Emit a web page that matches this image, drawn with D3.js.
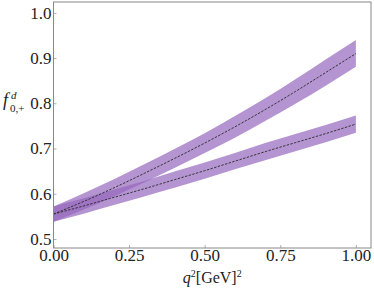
<!DOCTYPE html>
<html>
<head>
<meta charset="utf-8">
<script src="https://cdn.jsdelivr.net/npm/d3@7/dist/d3.min.js"></script>
<style>
  body { margin: 0; background: #fff; }
</style>
</head>
<body>
<script>
// values
const q2 = [0, 0.1, 0.2, 0.3, 0.4, 0.5, 0.6, 0.7, 0.8, 0.9, 1.0];
const fUpper = [0.555, 0.583, 0.613, 0.645, 0.678, 0.712, 0.748, 0.786, 0.826, 0.868, 0.910];
const fUpperLo = [0.538, 0.565, 0.594, 0.625, 0.657, 0.690, 0.724, 0.761, 0.799, 0.839, 0.881];
const fUpperHi = [0.572, 0.601, 0.632, 0.665, 0.699, 0.734, 0.772, 0.811, 0.853, 0.897, 0.940];
const fLower = [0.555, 0.573, 0.592, 0.611, 0.631, 0.651, 0.672, 0.693, 0.713, 0.733, 0.754];
const fLowerLo = [0.538, 0.556, 0.575, 0.594, 0.613, 0.633, 0.654, 0.674, 0.694, 0.714, 0.735];
const fLowerHi = [0.572, 0.590, 0.609, 0.628, 0.649, 0.669, 0.690, 0.712, 0.732, 0.752, 0.773];
const xTicks = [0, 0.25, 0.5, 0.75, 1.0];
const yTicks = [0.5, 0.6, 0.7, 0.8, 0.9, 1.0];

const FONT = "'Liberation Serif', serif";
const W = 374, H = 288;
const margin = { top: 2, right: 3, bottom: 40, left: 53.5 };
const width = W - margin.left - margin.right, height = H - margin.top - margin.bottom;

const svg = d3.select("body").append("svg")
  .attr("width", W).attr("height", H);
const g = svg.append("g").attr("transform", `translate(${margin.left},${margin.top})`);

const x = d3.scaleLinear().domain([0, 1.05]).range([0, width]);
const y = d3.scaleLinear().domain([0.48, 1.024]).range([height, 0]);

// bands
const bands = [
  { mid: fLower, lo: fLowerLo, hi: fLowerHi },
  { mid: fUpper, lo: fUpperLo, hi: fUpperHi }
];
const area = d3.area()
  .x((d, i) => x(q2[i]))
  .y0(d => y(d[0]))
  .y1(d => y(d[1]))
  .curve(d3.curveMonotoneX);
const line = d3.line()
  .x((d, i) => x(q2[i]))
  .y(d => y(d))
  .curve(d3.curveMonotoneX);

bands.forEach(b => {
  g.append("path")
    .datum(b.lo.map((v, i) => [v, b.hi[i]]))
    .attr("d", area)
    .attr("fill", "#9467bd")
    .attr("fill-opacity", 0.7);
});
bands.forEach(b => {
  g.append("path")
    .datum(b.mid)
    .attr("d", line)
    .attr("fill", "none")
    .attr("stroke", "#2a2a2a")
    .attr("stroke-width", 0.9)
    .attr("stroke-dasharray", "2.4,1.4");
});

// axes with inward ticks
const xAxis = g.append("g").attr("transform", `translate(0,${height})`)
  .call(d3.axisBottom(x).tickValues(xTicks).tickFormat(d3.format(".2f")).tickSizeInner(-3).tickSizeOuter(0).tickPadding(1));
const yAxis = g.append("g")
  .call(d3.axisLeft(y).tickValues(yTicks).tickFormat(d3.format(".1f")).tickSizeInner(-3).tickSizeOuter(0).tickPadding(2));
[xAxis, yAxis].forEach(a => {
  a.attr("font-family", FONT).attr("font-size", 17);
  a.select(".domain").remove();
  a.selectAll(".tick line").attr("stroke", "#999").attr("stroke-width", 0.8);
  a.selectAll(".tick text")
    .attr("font-family", FONT).attr("font-size", 17).attr("fill", "#222");
});

// frame
g.append("rect")
  .attr("width", width).attr("height", height)
  .attr("fill", "none").attr("stroke", "#888").attr("stroke-width", 1);

// axis titles
const xt = svg.append("text")
  .attr("x", margin.left + width / 2).attr("y", 283)
  .attr("text-anchor", "middle")
  .attr("font-family", FONT).attr("font-size", 16).attr("fill", "#222");
xt.append("tspan").attr("font-style", "italic").text("q");
xt.append("tspan").attr("dy", -6).attr("font-size", 10).text("2");
xt.append("tspan").attr("dy", 6).text("[GeV]");
xt.append("tspan").attr("dy", -6).attr("font-size", 10).text("2");

const yt = svg.append("text")
  .attr("x", 3).attr("y", 106)
  .attr("font-family", FONT).attr("font-size", 18).attr("fill", "#222");
yt.append("tspan").attr("font-style", "italic").text("f");
yt.append("tspan").attr("dx", 3).attr("dy", -7).attr("font-size", 11).attr("font-style", "italic").text("d");
svg.append("text")
  .attr("x", 10).attr("y", 112)
  .attr("font-family", FONT).attr("font-size", 11).attr("fill", "#222")
  .text("0,+");
</script>
</body>
</html>
